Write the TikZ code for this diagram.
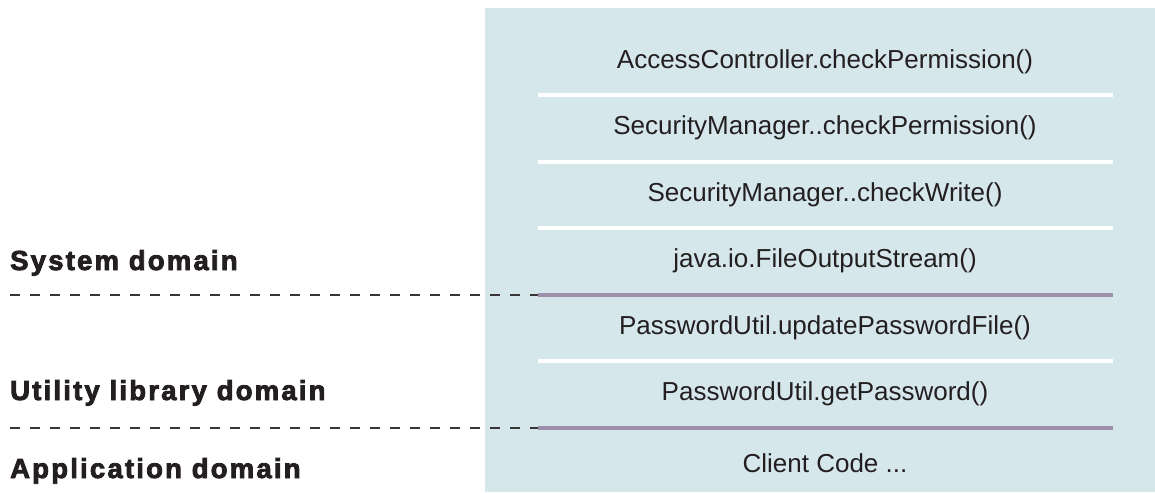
\documentclass[tikz,border=0pt]{standalone}
\usepackage{fontspec}
\setmainfont{Liberation Sans}
\newfontfamily\lblfont{Liberation Sans}[LetterSpace=8,FakeBold=3]
\definecolor{panelblue}{HTML}{D6E7EC}
\definecolor{sepviolet}{HTML}{9D8FA9}
\definecolor{inkdark}{HTML}{231F20}
\begin{document}
\begin{tikzpicture}[x=1pt,y=-1pt,
  calltext/.style={text=inkdark,inner sep=0pt,anchor=center,font=\fontsize{26}{30}\selectfont},
  domainlbl/.style={text=inkdark,inner sep=0pt,anchor=base west,font=\lblfont\bfseries\fontsize{27.5}{30}\selectfont},
  whitesep/.style={draw=white,line width=4pt},
  violetsep/.style={draw=sepviolet,line width=4pt},
  domainline/.style={draw=inkdark!90,line width=2pt,dash pattern=on 10pt off 10pt}]
\useasboundingbox (0,0) rectangle (1155,492);
\fill[panelblue] (485,8) rectangle (1155,492);
% separators
\coordinate (w1l) at (538,95);   \coordinate (w1r) at (1113,95);
\coordinate (w2l) at (538,161.5);\coordinate (w2r) at (1113,161.5);
\coordinate (w3l) at (538,228);  \coordinate (w3r) at (1113,228);
\coordinate (p1l) at (538,294.5);\coordinate (p1r) at (1113,294.5);
\coordinate (w4l) at (538,361);  \coordinate (w4r) at (1113,361);
\coordinate (p2l) at (538,427.5);\coordinate (p2r) at (1113,427.5);
\draw[whitesep] (w1l) -- (w1r);
\draw[whitesep] (w2l) -- (w2r);
\draw[whitesep] (w3l) -- (w3r);
\draw[whitesep] (w4l) -- (w4r);
\draw[violetsep] (p1l) -- (p1r);
\draw[violetsep] (p2l) -- (p2r);
% call stack texts
\node[calltext] (t1) at (825,62) {AccessController.checkPermission()};
\node[calltext] (t2) at (825,128) {SecurityManager..checkPermission()};
\node[calltext] (t3) at (825,195) {SecurityManager..checkWrite()};
\node[calltext] (t4) at (825,261) {java.io.FileOutputStream()};
\node[calltext] (t5) at (825,328) {PasswordUtil.updatePasswordFile()};
\node[calltext] (t6) at (825,394) {PasswordUtil.getPassword()};
\node[calltext] (t7) at (825,463) {Client Code ...};
% domain labels
\node[domainlbl] (d1) at (10,270) {System domain};
\node[domainlbl] (d2) at (10,400) {Utility library domain};
\node[domainlbl] (d3) at (10,478) {Application domain};
% domain boundaries
\coordinate (b1) at (10,294.5);
\coordinate (b2) at (10,427.5);
\draw[domainline] (b1) -- (p1l);
\draw[domainline] (b2) -- (p2l);
\end{tikzpicture}
\end{document}
